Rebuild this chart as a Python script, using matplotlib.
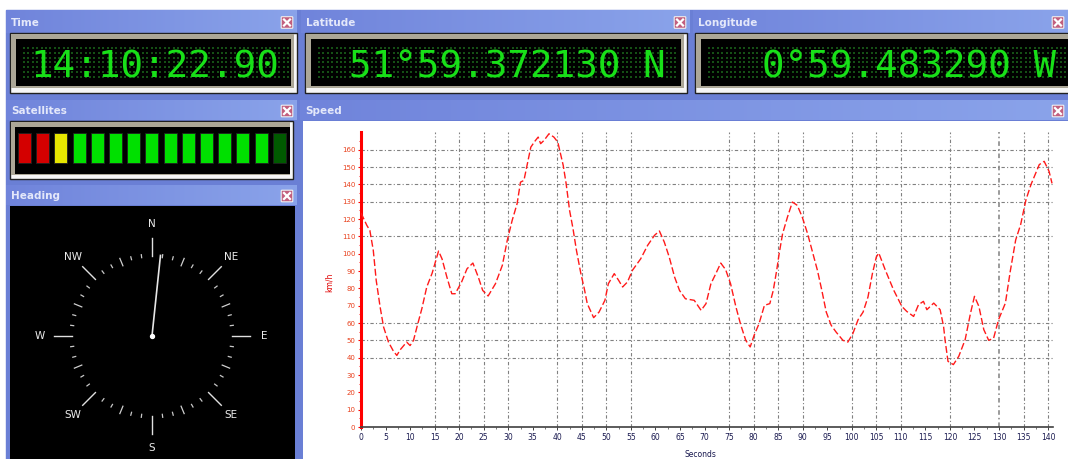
import numpy as np
import matplotlib.pyplot as plt
from matplotlib.patches import Rectangle, FancyBboxPatch
from matplotlib.colors import LinearSegmentedColormap

# GPS readouts
time_text = "14:10:22.90"
lat_text = "51°59.372130 N"
lon_text = "0°59.483290 W"
heading_deg = 6

# satellite signal bars, left to right
sat_colors = ['#d40000', '#d40000', '#e6e600'] + ['#00e000'] * 11 + ['#005a00']

compass_labels = ['N', 'NE', 'E', 'SE', 'S', 'SW', 'W', 'NW']

# speed trace (km/h against seconds)
secs = [0, 1.2, 1.8, 2.5, 3.1, 3.9, 4.6, 5.6, 6.6, 7.3, 8.0, 9.3, 10.0, 10.7, 11.4, 12.4,
        13.4, 14.5, 15.8, 16.5, 17.5, 18.5, 19.2, 20.5, 21.6, 22.8, 23.9, 24.8, 25.9, 27.4,
        28.8, 29.8, 30.8, 31.8, 32.5, 33.2, 33.9, 34.6, 35.4, 36.1, 36.6, 37.3, 38.3, 39.3,
        40.1, 41.2, 41.8, 42.5, 43.2, 43.9, 44.8, 45.5, 46.1, 47.4, 48.5, 49.7, 50.4, 51.6,
        52.5, 53.3, 54.3, 55.3, 57.0, 58.4, 59.8, 60.8, 61.8, 62.8, 63.9, 64.9, 66.1, 67.9,
        69.3, 70.3, 71.3, 72.3, 73.3, 74.3, 75.3, 76.4, 77.4, 78.4, 79.3, 80.1, 81.1, 82.2,
        83.3, 84.0, 84.7, 85.2, 85.9, 86.9, 87.9, 88.9, 89.9, 91.0, 92.0, 93.0, 93.9, 94.8,
        95.8, 96.8, 98.2, 99.2, 100.2, 101.3, 102.3, 103.3, 104.2, 105.0, 105.5, 106.8, 108.5,
        110.2, 111.2, 112.6, 113.6, 114.6, 115.3, 116.7, 118.0, 118.7, 119.0, 119.6, 120.7,
        121.8, 123.1, 124.2, 125.0, 125.9, 126.9, 127.9, 128.9, 129.9, 131.3, 132.3, 133.4,
        134.4, 135.5, 136.5, 138.2, 139.2, 140.2, 140.8]
speed = [123.5, 116.3, 113.5, 102, 84.6, 69.2, 57.7, 49, 43.8, 41.3, 44.6, 49, 47, 50, 57.7, 68.3,
         80.8, 88.8, 101.5, 97.1, 86.5, 76.9, 76.9, 83.7, 91.3, 94.6, 86.5, 78.8, 75.6, 82.7,
         93.3, 107.7, 119.2, 128.8, 141.3, 142.3, 151.9, 161.5, 164.8, 167.3, 163.5, 165.4, 169.2, 167.3,
         164.4, 151, 140.4, 125, 114.4, 101.9, 88.5, 79.8, 71.2, 63.1, 66.3, 73.1, 82.7, 88.5,
         84.6, 80.8, 83.7, 90.4, 97.1, 104.8, 110.6, 113.1, 106.7, 98.1, 86.5, 78.8, 74.0, 73.1,
         67.3, 71.2, 82.7, 88.5, 94.6, 90.8, 82.7, 69.2, 58.7, 50, 46.2, 52.9, 59.6, 70.2,
         71.2, 78.8, 90.4, 100, 111.5, 121.2, 129.8, 127.9, 121.2, 111.5, 101, 90.4, 78.8, 66.3,
         58.7, 54.8, 50, 49, 53.8, 62, 66.3, 75, 88.5, 98.1, 100.4, 90.8, 79.2,
         69.6, 66.7, 63.8, 70.6, 72.5, 67.7, 71.5, 67.7, 58.1, 50.4, 37.9, 36,
         40.8, 50.4, 65.8, 75.4, 69.6, 56.2, 50, 51.3, 61.9, 71.5, 90, 108,
         116.7, 131.2, 139.8, 151.4, 153.3, 147.5, 140.6]

grid_x = [15, 20, 25, 30, 40, 45, 50, 55, 75, 80, 85, 90, 100, 105, 110, 120, 130, 135, 140]
grid_y = [40, 50, 60, 110, 130, 140, 150, 160]

W, H = 1068, 459
fig = plt.figure(figsize=(W / 100, H / 100), dpi=100)
bg = fig.add_axes([0, 0, 1, 1])
bg.set_xlim(0, W)
bg.set_ylim(H, 0)
bg.axis('off')

# blue window background
bg.add_patch(Rectangle((6, 10), W - 6, H - 10, color='#6a7fd5', zorder=0))

title_cmap = LinearSegmentedColormap.from_list('xp', ['#7084db', '#8aa3ea'])
grad = np.linspace(0, 1, 256).reshape(1, -1)


def title_bar(name, x0, y0, x1, y1):
    bg.imshow(grad, cmap=title_cmap, extent=(x0, x1, y1, y0), aspect='auto', zorder=1)
    bg.text(x0 + 5, (y0 + y1) / 2 + 1, name, color='#e4e8fa', fontsize=7.5,
            fontweight='bold', va='center', ha='left', zorder=3)
    cx = min(x1 - 10, W - 6)
    cy = (y0 + y1) / 2 + 1
    bg.add_patch(FancyBboxPatch((cx - 5, cy - 5), 10, 10, boxstyle='round,pad=0.8',
                                fc='#c25f7e', ec='#f0f0f0', lw=0.8, zorder=3))
    bg.plot([cx - 3, cx + 3], [cy - 3, cy + 3], color='white', lw=1.6, zorder=4)
    bg.plot([cx - 3, cx + 3], [cy + 3, cy - 3], color='white', lw=1.6, zorder=4)


def led_panel(x0, x1, text, xc):
    bg.add_patch(Rectangle((x0, 33), x1 - x0, 60, fc='#f6f6f6', ec='#202020', lw=1.0, zorder=2))
    bg.add_patch(Rectangle((x0 + 1, 34), x1 - x0 - 4, 54, fc='#aca797', lw=0, zorder=2))
    bg.add_patch(Rectangle((x0 + 6, 39), x1 - x0 - 12, 47, fc='black', lw=0, zorder=2))
    dx = np.arange(x0 + 14, x1 - 8, 4.4)
    dy = np.arange(48, 78, 4.8)
    gx, gy = np.meshgrid(dx, dy)
    bg.scatter(gx.ravel(), gy.ravel(), s=1.8, marker='s', color='#154f15', lw=0, zorder=3)
    bg.text(xc, 77, text, color='#18e018', fontsize=27, family='DejaVu Sans Mono',
            ha='center', va='baseline', zorder=4)


# top row
title_bar('Time', 6, 10, 297, 33)
title_bar('Latitude', 301, 10, 690, 33)
title_bar('Longitude', 693, 10, W, 33)
led_panel(10, 297, time_text, 155)
led_panel(305, 687, lat_text, 507)
led_panel(695, W + 6, lon_text, 909)

# satellites
title_bar('Satellites', 6, 100, 297, 120)
bg.add_patch(Rectangle((10, 121), 283, 58, fc='#f6f6f6', ec='#202020', lw=1.0, zorder=2))
bg.add_patch(Rectangle((11, 122), 279, 53, fc='#aca797', lw=0, zorder=2))
bg.add_patch(Rectangle((15, 127), 275, 47, fc='black', lw=0, zorder=2))
sat_x = 18 + 18.2 * np.arange(len(sat_colors))
bg.bar(sat_x, 30, width=13, bottom=133, align='edge', color=sat_colors,
       edgecolor='#202020', lw=0.6, zorder=3)

# heading compass
title_bar('Heading', 6, 185, 297, 205)
bg.add_patch(Rectangle((10, 206), 285, H - 206, fc='black', lw=0, zorder=2))
cx, cy = 152, 336
for a in np.arange(0, 360, 7.5):
    t = np.radians(a)
    if a % 45 == 0:
        r0, r1, lw, c = 80, 98, 1.0, '#e0e0e0'
    elif a % 22.5 == 0:
        r0, r1, lw, c = 76, 84, 0.9, '#d0d0d0'
    else:
        r0, r1, lw, c = 79, 82, 0.9, '#c8c8c8'
    bg.plot([cx + r0 * np.sin(t), cx + r1 * np.sin(t)],
            [cy - r0 * np.cos(t), cy - r1 * np.cos(t)], color=c, lw=lw, zorder=3)
for i, lab in enumerate(compass_labels):
    t = np.radians(45 * i)
    bg.text(cx + 112 * np.sin(t), cy - 112 * np.cos(t), lab, color='#ececec',
            fontsize=7.5, ha='center', va='center', zorder=3)
th = np.radians(heading_deg)
bg.plot([cx, cx + 81 * np.sin(th)], [cy, cy - 81 * np.cos(th)], color='#e6e6e6', lw=1.2, zorder=4)
bg.scatter([cx], [cy], s=8, color='white', zorder=5)

# speed panel
title_bar('Speed', 300, 100, W, 120)
bg.add_patch(Rectangle((303, 121), W - 303, H - 121, fc='white', lw=0, zorder=2))

ax = fig.add_axes([361 / W, 1 - 427 / H, 692 / W, 294.6 / H], zorder=3)
ax.patch.set_alpha(0)
ax.set_xlim(0, 141)
ax.set_ylim(0, 170)
for gx in grid_x:
    ax.axvline(gx, color='#808080', lw=1.1 if gx == 130 else 0.8,
               ls=(0, (3, 2, 1, 2)), zorder=1)
for gy in grid_y:
    ax.axhline(gy, color='#808080', lw=0.8, ls=(0, (3, 2, 1, 2)), zorder=1)
ax.plot(secs, speed, color='#ff1a1a', lw=1.0, ls=(0, (5, 2)), zorder=3)

ax.spines['top'].set_visible(False)
ax.spines['right'].set_visible(False)
ax.spines['left'].set_color('#ff0000')
ax.spines['left'].set_linewidth(2.2)
ax.spines['bottom'].set_color('#404040')
ax.spines['bottom'].set_linewidth(1.2)
ax.set_xticks(np.arange(0, 141, 5))
ax.set_xticks(np.arange(0, 141, 2.5), minor=True)
ax.set_yticks(np.arange(0, 161, 10))
ax.set_yticks(np.arange(0, 170, 5), minor=True)
ax.tick_params(axis='x', labelsize=5.5, labelcolor='#1a1a50', color='#404040',
               length=2.5, width=0.7, pad=2)
ax.tick_params(axis='x', which='minor', length=1.5, width=0.5, color='#404040')
ax.tick_params(axis='y', labelsize=5, labelcolor='#e8401c', color='#ff0000',
               length=2.5, width=0.8, pad=1.5)
ax.tick_params(axis='y', which='minor', length=1.5, width=0.6, color='#ff0000')
ax.set_ylabel('km/h', color='#e00000', fontsize=5.5)
ax.yaxis.set_label_coords(-0.04, 0.49)
ax.set_xlabel('Seconds', color='#1a1a50', fontsize=5.5)
ax.xaxis.set_label_coords(0.49, -0.078)

fig.savefig('out.png', dpi=100)
